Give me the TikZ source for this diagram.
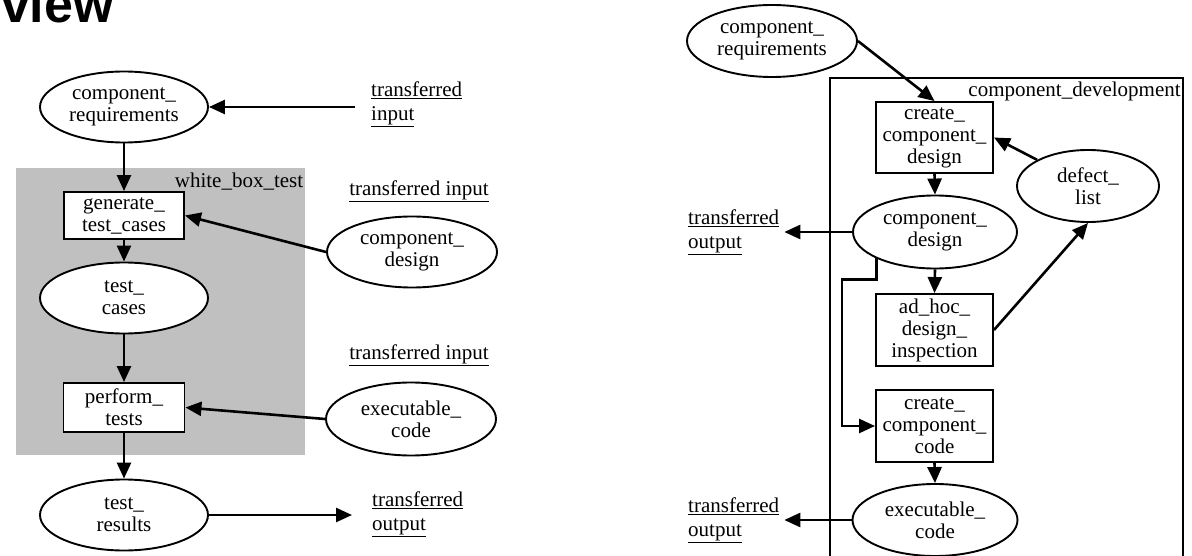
\documentclass[tikz,border=0pt]{standalone}
\usepackage{fontspec}
\setmainfont{Liberation Serif}
\newfontfamily\titlefont{Liberation Sans}
\usetikzlibrary{arrows.meta,shapes.geometric,calc}
\definecolor{panelgray}{RGB}{192,192,192}

\begin{document}
\begin{tikzpicture}[x=1pt,y=1pt,
  every node/.style={font=\fontsize{21}{22}\selectfont},
  store/.style={ellipse,draw,line width=1.9pt,fill=white,minimum width=168pt,
    minimum height=71pt,inner sep=0pt,align=center},
  task/.style={rectangle,draw,line width=1.9pt,fill=white,inner sep=0pt,
    align=center,minimum width=117pt,minimum height=72pt},
  lbl/.style={inner sep=0pt,align=left,font=\fontsize{21}{24}\selectfont},
  flow/.style={line width=2.6pt,-{Triangle[length=16pt,width=14pt]}},
  ]
\useasboundingbox (0,0) rectangle (1192,-556);
\clip (0,0) rectangle (1192,-556);

% heading
\node[anchor=base east,inner sep=0pt,
  font=\titlefont\fontsize{52}{52}\selectfont\bfseries] (title) at (114,-23) {view};

% ---------- white box test ----------
\node[fill=panelgray,anchor=north west,minimum width=289pt,minimum height=287pt,
  inner sep=0pt] (wbt) at (16,-168) {};
\node[anchor=north east,inner xsep=2pt,inner ysep=5pt] (wbtlbl) at (wbt.north east)
  {white\_box\_test};

\node[store] (reqL) at (124,-107) {component\_\\requirements};
\node[task,minimum width=120pt,minimum height=47pt] (gen) at (124,-215.5)
  {generate\_\\test\_cases};
\node[store] (tc) at (124,-298) {test\_\\cases};
\node[task,minimum width=121pt,minimum height=49pt] (perf) at (124,-407.5)
  {perform\_\\tests};
\node[store] (tres) at (124,-515) {test\_\\results};
\node[store,minimum width=170pt] (cdL) at (412,-252) {component\_\\design};
\node[store,minimum width=170pt,minimum height=73pt] (exL) at (411,-419)
  {executable\_\\code};

\node[lbl,anchor=west] (in1) at (371,-104) {\underline{transferred}\\\underline{input}};
\node[lbl] (in2) at (419,-191) {\underline{transferred input}};
\node[lbl] (in3) at (419,-355) {\underline{transferred input}};
\node[lbl,anchor=west] (out1) at (372,-514) {\underline{transferred}\\\underline{output}};

\draw[flow] (reqL.south) -- (gen.north);
\draw[flow] (gen.south) -- (tc.north);
\draw[flow] (tc.south) -- (perf.north);
\draw[flow] (perf.south) -- (tres.north);
\draw[flow] (in1.west) ++(-16,-3) -- (reqL.east);
\draw[flow] (cdL.west) -- (gen.east);
\draw[flow] (exL.west) -- (perf.east);
\draw[flow,shorten >=20pt] (tres.east) -- (tres.east -| out1.west);

% ---------- component development ----------
\node[draw,line width=1.9pt,anchor=north west,minimum width=353pt,
  minimum height=520pt,inner sep=0pt] (cdev) at (829,-77) {};
\node[anchor=north east,inner xsep=3pt,inner ysep=5pt] (cdevlbl) at (cdev.north east)
  {component\_development};

\node[store,minimum width=170pt,minimum height=72pt] (reqR) at (772,-41)
  {component\_\\requirements};
\node[task,minimum height=71pt] (cdes) at (934.5,-137.5)
  {create\_\\component\_\\design};
\node[store,minimum width=142pt,minimum height=72pt] (dl) at (1088,-186)
  {defect\_\\list};
\node[store,minimum width=164pt,minimum height=73pt] (cdR) at (935,-232)
  {component\_\\design};
\node[task] (adh) at (934.5,-330) {ad\_hoc\_\\design\_\\inspection};
\node[task] (ccode) at (934.5,-426) {create\_\\component\_\\code};
\node[store,minimum width=165pt,minimum height=72pt] (exR) at (935,-520)
  {executable\_\\code};

\node[lbl,anchor=west] (out2) at (688,-232) {\underline{transferred}\\\underline{output}};
\node[lbl,anchor=west] (out3) at (688,-520) {\underline{transferred}\\\underline{output}};

\draw[flow] (reqR.east) -- (cdes.north);
\draw[flow] (dl.north west) -- (cdes.east);
\draw[flow] (cdes.south) -- (cdR.north);
\draw[flow] (cdR.south) -- (adh.north);
\draw[flow] (adh.east) -- (dl.south);
\draw[flow] (cdR.south west) -- ++(0,-21) -| ([xshift=-33pt]ccode.west) -- (ccode.west);
\draw[flow] (ccode.south) -- (exR.north);
\draw[flow,shorten >=5pt] (cdR.west) -- (cdR.west -| out2.east);
\draw[flow,shorten >=5pt] (exR.west) -- (exR.west -| out3.east);
\end{tikzpicture}
\end{document}
